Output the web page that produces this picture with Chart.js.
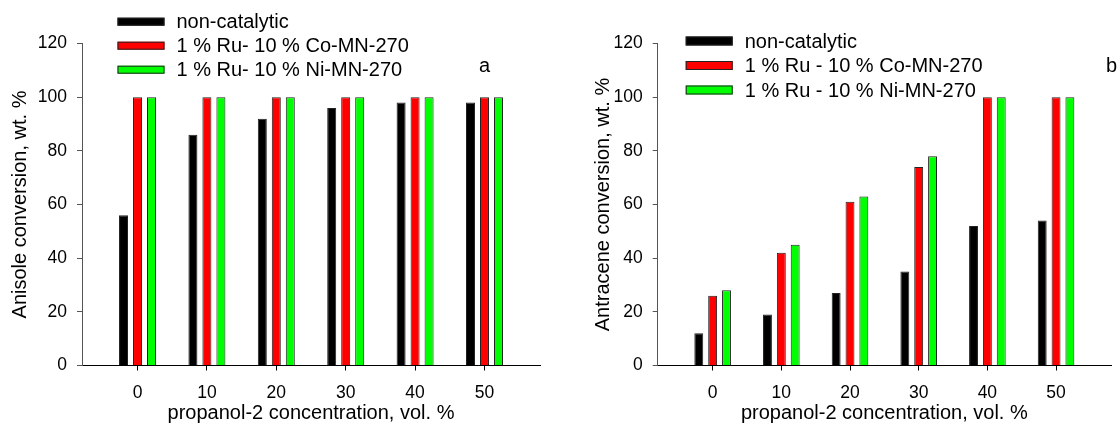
<!DOCTYPE html>
<html>
<head>
<meta charset="utf-8">
<script src="https://cdn.jsdelivr.net/npm/chart.js@4.4.1/dist/chart.umd.min.js"></script>
<style>
  html, body { margin: 0; padding: 0; background: #fff; }
  #wrap { position: relative; width: 1118px; height: 425px; overflow: hidden; }
  #wrap canvas { position: absolute; top: 0; }
</style>
</head>
<body>
<div id="wrap">
  <canvas id="chartA" width="559" height="425" style="left:0;width:559px;height:425px"></canvas>
  <canvas id="chartB" width="559" height="425" style="left:559px;width:559px;height:425px"></canvas>
</div>
<script>
// data
const concentrations = [0, 10, 20, 30, 40, 50];
const namesA = ['non-catalytic', '1 % Ru- 10 % Co-MN-270', '1 % Ru- 10 % Ni-MN-270'];
const namesB = ['non-catalytic', '1 % Ru - 10 % Co-MN-270', '1 % Ru - 10 % Ni-MN-270'];
const anisoleNonCat = [56, 86, 92, 96, 98, 98];
const anisoleCo = [100, 100, 100, 100, 100, 100];
const anisoleNi = [100, 100, 100, 100, 100, 100];
const antraceneNonCat = [12, 19, 27, 35, 52, 54];
const antraceneCo = [26, 42, 61, 74, 100, 100];
const antraceneNi = [28, 45, 63, 78, 100, 100];
const barColors = ['#000000', '#ff0000', '#00ff00'];

const FONT = '"Liberation Sans", Arial, sans-serif';

function points(vals) {
  return concentrations.map((c, i) => ({ x: c, y: vals[i] }));
}

function makeSets(names, series) {
  return series.map((vals, i) => ({
    label: names[i],
    data: points(vals),
    backgroundColor: barColors[i],
    borderColor: '#222',
    borderWidth: 1,
    categoryPercentage: 0.605,
    barPercentage: 0.643
  }));
}

// legend inside the plot + panel letter
const boxLegend = {
  id: 'boxLegend',
  afterDraw(chart, args, o) {
    const ctx = chart.ctx;
    ctx.save();
    ctx.font = '20px ' + FONT;
    ctx.textBaseline = 'middle';
    ctx.textAlign = 'left';
    chart.data.datasets.forEach((ds, i) => {
      const y = o.y + i * o.gap;
      ctx.fillStyle = ds.backgroundColor;
      ctx.fillRect(o.x, y - o.h / 2, o.w, o.h);
      ctx.strokeStyle = '#222';
      ctx.lineWidth = 1;
      ctx.strokeRect(o.x + 0.5, y - o.h / 2 + 0.5, o.w - 1, o.h - 1);
      ctx.fillStyle = '#000';
      ctx.fillText(ds.label, o.x + o.w + 12, y + 1);
    });
    ctx.font = '20px ' + FONT;
    ctx.textBaseline = 'alphabetic';
    ctx.fillText(o.letter, o.lx, o.ly);
    ctx.restore();
  }
};

function makeChart(id, names, series, yTitle, cfg) {
  return new Chart(id, {
    type: 'bar',
    data: { datasets: makeSets(names, series) },
    plugins: [boxLegend],
    options: {
      responsive: false,
      maintainAspectRatio: false,
      animation: false,
      layout: { padding: { left: 0, right: cfg.padRight, top: 43.5, bottom: 0 } },
      plugins: {
        legend: { display: false },
        tooltip: { enabled: false },
        boxLegend: cfg.legend
      },
      scales: {
        x: {
          type: 'linear',
          min: -8,
          max: 58,
          offset: false,
          afterBuildTicks(scale) {
            scale.ticks = concentrations.map(v => ({ value: v }));
          },
          afterFit(scale) { scale.height = 59.5; },
          ticks: {
            color: '#000',
            font: { family: FONT, size: 17.5 },
            padding: 12,
            callback: v => String(v)
          },
          grid: {
            display: true,
            offset: false,
            drawOnChartArea: false,
            drawTicks: true,
            tickLength: 5,
            color: '#000'
          },
          border: { display: true, color: '#000', width: 1 },
          title: {
            display: true,
            text: 'propanol-2 concentration, vol. %',
            color: '#000',
            font: { family: FONT, size: 20 },
            padding: { top: 0, bottom: 0 }
          }
        },
        y: {
          min: 0,
          max: 120,
          afterFit(scale) { scale.width = cfg.yWidth; },
          ticks: {
            stepSize: 20,
            color: '#000',
            font: { family: FONT, size: 17.5 },
            padding: 10
          },
          grid: {
            display: true,
            drawOnChartArea: false,
            drawTicks: true,
            tickLength: 5,
            color: '#555'
          },
          border: { display: true, color: '#555', width: 1 },
          title: {
            display: true,
            text: yTitle,
            color: '#000',
            font: { family: FONT, size: 20 },
            padding: { top: cfg.titlePad, bottom: 0 }
          }
        }
      }
    }
  });
}

makeChart('chartA', namesA, [anisoleNonCat, anisoleCo, anisoleNi],
  'Anisole conversion, wt. %', {
    padRight: 19, yWidth: 82, titlePad: 8,
    legend: { x: 117.5, y: 21.7, gap: 24, w: 47, h: 8, letter: 'a', lx: 479, ly: 72 }
  });

makeChart('chartB', namesB, [antraceneNonCat, antraceneCo, antraceneNi],
  'Antracene conversion, wt. %', {
    padRight: 7, yWidth: 98.7, titlePad: 32,
    legend: { x: 126.7, y: 41, gap: 24.5, w: 47, h: 9, letter: 'b', lx: 547, ly: 72 }
  });
</script>
</body>
</html>
